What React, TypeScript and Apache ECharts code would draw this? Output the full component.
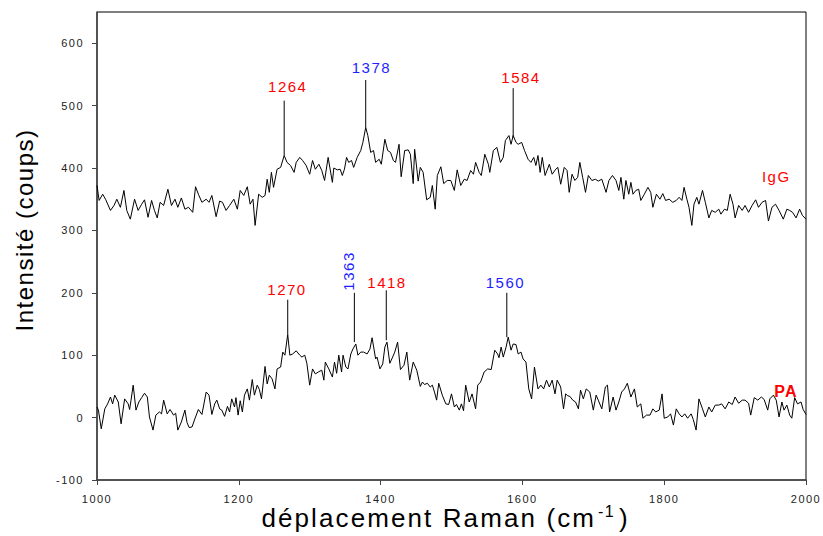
import { useEffect, useRef } from "react";
import * as echarts from "echarts";

// ---------- data ----------
const xTicks = [1000, 1200, 1400, 1600, 1800, 2000];
const yTicks = [-100, 0, 100, 200, 300, 400, 500, 600];

// IgG spectrum [Raman shift, counts]
const iggSpectrum: [number, number][] = [
  [1000, 372], [1003, 348], [1008, 358], [1012, 350], [1019, 332], [1024, 340], [1028, 350], [1033, 337], [1038, 364], [1042, 332],
  [1047, 318], [1053, 350], [1058, 332], [1063, 342], [1067, 349], [1072, 321], [1077, 348], [1081, 332], [1085, 320], [1089, 345],
  [1094, 340], [1100, 366], [1105, 340], [1110, 350], [1114, 337], [1119, 352], [1124, 334], [1129, 337], [1135, 329], [1139, 370],
  [1143, 358], [1148, 345], [1154, 350], [1158, 345], [1162, 356], [1168, 322], [1173, 347], [1177, 345], [1182, 332], [1187, 340],
  [1193, 350], [1198, 334], [1202, 364], [1207, 356], [1212, 370], [1216, 342], [1220, 350], [1223, 308], [1228, 358], [1233, 353],
  [1237, 356], [1240, 382], [1243, 361], [1246, 393], [1249, 369], [1254, 398], [1259, 401], [1264, 420], [1268, 409], [1273, 404],
  [1278, 393], [1281, 409], [1286, 417], [1290, 412], [1295, 404], [1300, 390], [1304, 412], [1308, 398], [1313, 406], [1317, 396],
  [1321, 380], [1326, 417], [1332, 377], [1334, 400], [1339, 397], [1343, 398], [1346, 388], [1349, 398], [1352, 417], [1355, 409],
  [1359, 412], [1362, 401], [1367, 417], [1372, 428], [1375, 441], [1379, 465], [1382, 452], [1386, 425], [1390, 428], [1393, 409],
  [1398, 414], [1401, 406], [1406, 446], [1410, 428], [1414, 425], [1418, 412], [1421, 409], [1426, 438], [1429, 386], [1434, 428],
  [1439, 429], [1442, 422], [1446, 375], [1448, 430], [1453, 379], [1456, 401], [1460, 393], [1465, 349], [1470, 353], [1473, 372],
  [1477, 334], [1480, 388], [1485, 402], [1489, 375], [1494, 380], [1499, 380], [1504, 364], [1508, 397], [1513, 372], [1518, 382],
  [1522, 380], [1527, 396], [1531, 390], [1534, 409], [1539, 393], [1542, 388], [1547, 422], [1552, 406], [1554, 393], [1559, 428],
  [1564, 433], [1569, 409], [1573, 417], [1576, 444], [1581, 452], [1584, 438], [1587, 452], [1591, 441], [1594, 438], [1599, 441],
  [1603, 428], [1608, 414], [1612, 409], [1616, 417], [1619, 404], [1622, 420], [1625, 393], [1628, 417], [1632, 388], [1638, 406],
  [1642, 390], [1647, 398], [1650, 401], [1654, 374], [1659, 401], [1663, 396], [1666, 361], [1670, 390], [1674, 380], [1678, 385],
  [1681, 409], [1685, 385], [1689, 361], [1693, 388], [1698, 380], [1703, 382], [1707, 379], [1712, 382], [1718, 361], [1722, 380],
  [1727, 388], [1732, 380], [1736, 364], [1739, 385], [1743, 350], [1746, 380], [1750, 358], [1753, 377], [1756, 358], [1760, 364],
  [1764, 366], [1767, 348], [1772, 358], [1777, 369], [1781, 361], [1784, 337], [1789, 358], [1794, 350], [1798, 359], [1802, 348],
  [1807, 350], [1812, 345], [1817, 348], [1821, 353], [1825, 348], [1828, 369], [1832, 350], [1835, 337], [1839, 308], [1842, 342],
  [1846, 353], [1849, 342], [1854, 364], [1858, 345], [1863, 320], [1867, 332], [1872, 329], [1877, 334], [1880, 326], [1885, 334],
  [1889, 332], [1893, 358], [1897, 342], [1900, 320], [1905, 340], [1910, 332], [1914, 340], [1919, 329], [1924, 340], [1929, 349],
  [1933, 337], [1938, 345], [1943, 348], [1947, 315], [1952, 337], [1957, 342], [1962, 332], [1968, 318], [1973, 334], [1977, 332],
  [1981, 329], [1986, 320], [1991, 334], [1995, 324], [2000, 318],
];

// PA spectrum [Raman shift, counts]
const paSpectrum: [number, number][] = [
  [1000, 17], [1002, 12], [1006, -18], [1011, 14], [1015, 22], [1019, 33], [1022, 22], [1025, 36], [1030, 25], [1034, -10],
  [1039, 30], [1044, 22], [1046, 13], [1048, 28], [1051, 52], [1055, 12], [1059, 25], [1063, 32], [1067, 39], [1071, 33],
  [1074, 1], [1079, -20], [1083, 4], [1088, 9], [1091, 6], [1094, 28], [1099, 6], [1103, 13], [1108, 4], [1111, 7],
  [1114, -20], [1119, -7], [1124, 12], [1127, -8], [1130, -16], [1134, -15], [1139, 1], [1143, 13], [1148, 5], [1154, 41],
  [1158, 36], [1162, 5], [1166, 22], [1169, 28], [1173, 14], [1176, 12], [1180, 2], [1184, 18], [1187, 9], [1190, 30],
  [1194, 17], [1196, 32], [1199, 4], [1202, 27], [1205, 9], [1208, 36], [1212, 46], [1215, 28], [1219, 61], [1222, 36],
  [1226, 52], [1229, 45], [1232, 30], [1237, 82], [1240, 54], [1243, 68], [1247, 62], [1251, 46], [1254, 78], [1259, 81],
  [1262, 105], [1265, 100], [1269, 133], [1272, 100], [1276, 102], [1281, 107], [1286, 100], [1289, 97], [1293, 100], [1296, 87],
  [1300, 52], [1304, 78], [1308, 70], [1312, 73], [1317, 76], [1320, 60], [1322, 89], [1327, 78], [1332, 65], [1335, 89],
  [1338, 71], [1341, 100], [1345, 73], [1347, 100], [1351, 81], [1354, 78], [1358, 102], [1361, 110], [1365, 118], [1368, 100],
  [1372, 105], [1376, 105], [1381, 102], [1385, 110], [1388, 128], [1393, 94], [1395, 97], [1399, 78], [1403, 86], [1406, 113],
  [1409, 121], [1413, 87], [1417, 97], [1420, 105], [1424, 121], [1428, 77], [1433, 84], [1437, 105], [1441, 60], [1446, 89],
  [1451, 76], [1456, 50], [1459, 57], [1462, 53], [1466, 55], [1470, 49], [1473, 52], [1476, 41], [1479, 28], [1482, 55],
  [1487, 36], [1492, 22], [1496, 21], [1500, 38], [1504, 17], [1507, 21], [1511, 12], [1514, 22], [1517, 11], [1520, 52],
  [1525, 25], [1529, 38], [1534, 14], [1537, 52], [1541, 57], [1546, 73], [1551, 78], [1556, 77], [1561, 108], [1565, 102],
  [1567, 96], [1570, 113], [1573, 97], [1577, 113], [1580, 129], [1584, 108], [1587, 118], [1591, 117], [1594, 102], [1598, 105],
  [1601, 94], [1605, 89], [1609, 46], [1613, 30], [1617, 81], [1622, 46], [1626, 52], [1630, 46], [1634, 60], [1638, 49],
  [1642, 60], [1646, 38], [1649, 60], [1654, 49], [1658, 14], [1661, 38], [1664, 35], [1667, 34], [1671, 28], [1675, 25],
  [1679, 14], [1682, 44], [1686, 30], [1690, 46], [1695, 41], [1700, 12], [1704, 36], [1707, 28], [1712, 14], [1717, 49],
  [1720, 52], [1723, 9], [1728, 33], [1732, 12], [1736, 25], [1740, 41], [1744, 46], [1748, 55], [1753, 33], [1758, 46],
  [1762, 17], [1767, 22], [1770, -1], [1775, 4], [1780, 4], [1784, 14], [1788, 9], [1793, 12], [1797, 38], [1800, -1],
  [1805, 1], [1809, 6], [1813, -12], [1817, 14], [1821, 6], [1825, 1], [1829, 6], [1833, -1], [1838, 6], [1841, -3],
  [1845, -20], [1849, 30], [1854, 14], [1858, 1], [1863, 17], [1867, 9], [1872, 20], [1877, 20], [1881, 22], [1886, 14],
  [1891, 25], [1896, 21], [1900, 33], [1905, 23], [1910, 28], [1914, 28], [1919, 23], [1922, 4], [1927, 32], [1932, 28],
  [1937, 33], [1941, 29], [1946, 12], [1949, 30], [1954, 36], [1958, 28], [1962, 1], [1966, 25], [1969, 12], [1973, 20],
  [1977, 4], [1980, -1], [1984, 32], [1988, 22], [1993, 25], [1996, 13], [2000, 5],
];

// peak marker lines
const peakX = [1264, 1379, 1587, 1269, 1363, 1408, 1578];
const peakBase = [420, 465, 449, 133, 121, 124, 129];
const peakTop = [508, 541, 528, 189, 200, 204, 200];

// peak annotations
const peakLabels = ["1264", "1378", "1584", "1270", "1363", "1418", "1560"];
const peakLabelX = [1269, 1387, 1598, 1268, 1355, 1409, 1576];
const peakLabelY = [530, 561, 545, 205, 235, 217, 217];
const peakLabelKind = ["red", "blue", "red", "red", "blue", "red", "blue"];

// sample names
const sampleNames = ["IgG", "PA"];
const sampleNameX = [1958, 1972];
const sampleNameY = [386, 42];

// ---------- styles ----------
const FONT = '"Liberation Sans", Arial, sans-serif';
const RED = "#ff0000";
const BLUE = "#1f1fff";

export default function App() {
  const ref = useRef<HTMLDivElement>(null);

  useEffect(() => {
    document.body.style.margin = "0";
    const el = ref.current!;
    const chart = echarts.init(el, null, { renderer: "svg" });

    const series: any[] = [
      {
        type: "line",
        data: iggSpectrum,
        showSymbol: false,
        symbol: "none",
        lineStyle: { color: "#000", width: 1 },
        silent: true,
      },
      {
        type: "line",
        data: paSpectrum,
        showSymbol: false,
        symbol: "none",
        lineStyle: { color: "#000", width: 1 },
        silent: true,
      },
    ];

    peakX.forEach((x, i) => {
      series.push({
        type: "line",
        data: [
          [x, peakBase[i]],
          [x, peakTop[i]],
        ],
        showSymbol: false,
        symbol: "none",
        lineStyle: { color: "#000", width: 1 },
        silent: true,
      });
    });

    const textLabel = (t: string, x: number, y: number, color: string, extra: any) => ({
      type: "scatter",
      data: [[x, y]],
      symbolSize: 0,
      silent: true,
      itemStyle: { color, opacity: 1 },
      label: {
        show: true,
        position: "inside",
        formatter: t,
        color,
        opacity: 1,
        textBorderWidth: 0,
        textShadowBlur: 0,
        fontFamily: FONT,
        ...extra,
      },
    });

    peakLabels.forEach((t, i) => {
      const c = peakLabelKind[i] === "red" ? RED : BLUE;
      series.push(textLabel(t, peakLabelX[i], peakLabelY[i], c, { fontSize: 15, rotate: t === "1363" ? 90 : 0 }));
    });

    sampleNames.forEach((t, i) => {
      series.push(
        textLabel(t, sampleNameX[i], sampleNameY[i], RED, {
          fontSize: t === "PA" ? 16 : 15,
          fontWeight: t === "PA" ? "bold" : "normal",
        })
      );
    });

    chart.setOption({
      animation: false,
      textStyle: { fontFamily: FONT },
      grid: {
        left: 97,
        right: 17,
        top: 12,
        bottom: 56,
        show: true,
        borderColor: "#000",
        borderWidth: 1,
        backgroundColor: "transparent",
        containLabel: false,
        outerBoundsMode: "none",
      },
      xAxis: {
        type: "value",
        min: 1000,
        max: 2000,
        interval: 200,
        splitLine: { show: false },
        axisLine: { show: true, onZero: false, lineStyle: { color: "#444", width: 1.5 } },
        axisTick: { show: true, length: 5, lineStyle: { color: "#444", width: 1 }, customValues: xTicks },
        axisLabel: {
          color: "#222",
          fontSize: 11,
          fontFamily: FONT,
          margin: 13,
          customValues: xTicks,
          formatter: (v: number) => String(v),
        },
      },
      yAxis: {
        type: "value",
        min: -100,
        max: 650,
        interval: 100,
        splitLine: { show: false },
        axisLine: { show: true, onZero: false, lineStyle: { color: "#444", width: 1.5 } },
        axisTick: { show: true, length: 5, lineStyle: { color: "#444", width: 1 }, customValues: yTicks },
        axisLabel: {
          color: "#222",
          fontSize: 11,
          fontFamily: FONT,
          margin: 13,
          customValues: yTicks,
          formatter: (v: number) => String(v),
        },
      },
      graphic: [
        {
          type: "text",
          x: 24,
          y: 230,
          rotation: Math.PI / 2,
          silent: true,
          style: {
            text: "Intensité (coups)",
            font: `24px ${FONT}`,
            fill: "#000",
            align: "center",
            verticalAlign: "middle",
          },
        },
        {
          type: "text",
          x: 596,
          y: 518,
          silent: true,
          style: {
            text: "déplacement Raman (cm",
            font: `26px ${FONT}`,
            fill: "#000",
            align: "right",
            verticalAlign: "middle",
          },
        },
        {
          type: "text",
          x: 598,
          y: 511,
          silent: true,
          style: {
            text: "-1",
            font: `16px ${FONT}`,
            fill: "#000",
            align: "left",
            verticalAlign: "middle",
          },
        },
        {
          type: "text",
          x: 619,
          y: 518,
          silent: true,
          style: {
            text: ")",
            font: `26px ${FONT}`,
            fill: "#000",
            align: "left",
            verticalAlign: "middle",
          },
        },
      ],
      series,
    });

    const applySpacing = () => {
      el.querySelectorAll("text").forEach((t) => {
        if ((t.textContent || "").startsWith("déplacement")) {
          (t as SVGTextElement).style.letterSpacing = "2.1px";
        }
      });
    };
    applySpacing();
    chart.on("finished", applySpacing);
    const raf = requestAnimationFrame(applySpacing);

    return () => {
      cancelAnimationFrame(raf);
      chart.dispose();
    };
  }, []);

  return (
    <div
      ref={ref}
      style={{ width: 823, height: 536, letterSpacing: "1.5px", background: "#fff" }}
    />
  );
}
